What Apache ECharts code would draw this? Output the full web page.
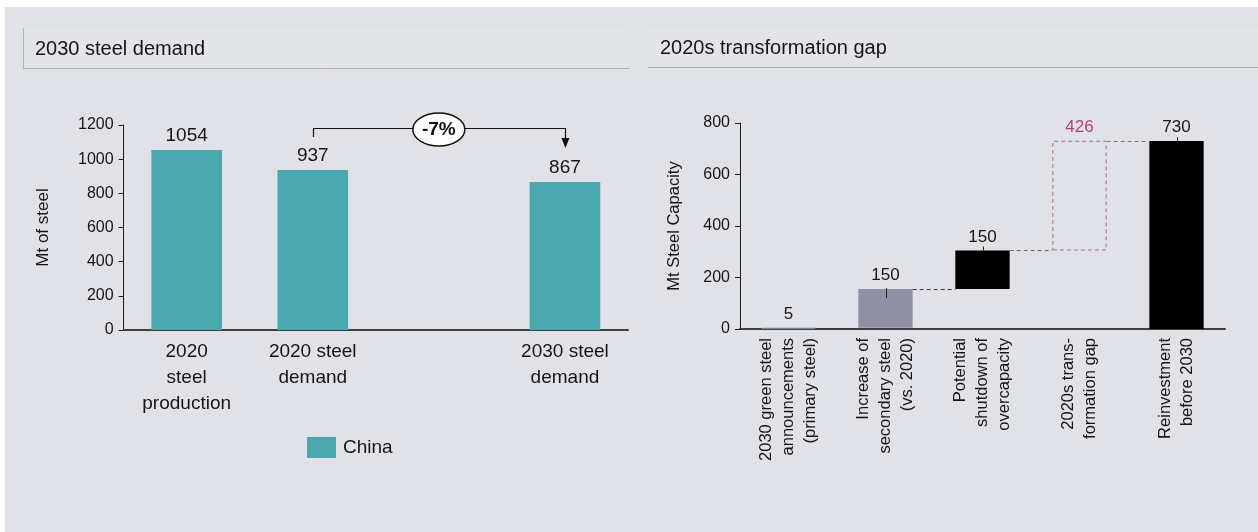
<!DOCTYPE html>
<html>
<head>
<meta charset="utf-8">
<script src="https://cdn.jsdelivr.net/npm/echarts@6/dist/echarts.min.js"></script>
<style>
html,body{margin:0;padding:0;background:#fff;}
#c{width:1258px;height:532px;}
</style>
</head>
<body>
<div id="c"></div>
<script>
// ---------- data ----------
const demandCategories = ['2020\nsteel\nproduction', '2020 steel\ndemand', '', '2030 steel\ndemand'];
const demandValues = [1054, 937, null, 867];
const demandYTicks = [0, 200, 400, 600, 800, 1000, 1200];
const demandSeriesName = 'China';

const gapCategories = [
  '2030 green steel\nannouncements\n(primary steel)',
  'Increase of\nsecondary steel\n(vs. 2020)',
  'Potential\nshutdown of\novercapacity',
  '2020s trans-\nformation gap',
  'Reinvestment\nbefore 2030'
];
const gapValues = [5, 150, 150, 426, 730];
const gapIsTotal = [false, false, false, false, true];
const gapYTicks = [0, 200, 400, 600, 800];

// ---------- derived ----------
const gapBase = [];
let cum = 0;
gapValues.forEach((v, i) => {
  if (gapIsTotal[i]) { gapBase.push(0); cum = v; }
  else { gapBase.push(cum); cum += v; }
});
const gapTops = gapValues.map((v, i) => gapBase[i] + v);
const pctChange = Math.round((demandValues[3] - demandValues[1]) / demandValues[1] * 100);

const FONT = '"Liberation Sans", Arial, Helvetica, sans-serif';
const TXT = '#151515';

const gapColors = ['#6f8f9e', '#9191a5', '#000000', 'transparent', '#000000'];
const connectorColors = ['#333333', '#3a3a3a', '#6a6a6a', '#7a7a7a'];

const chart = echarts.init(document.getElementById('c'), null, {renderer: 'canvas'});

const plain = v => String(v);

const option = {
  backgroundColor: '#ffffff',
  animation: false,
  textStyle: {fontFamily: FONT},
  graphic: [
    {type: 'rect', z: -10, shape: {x: 5, y: 7, width: 1253, height: 525}, style: {fill: '#e1e2e7'}},
    {type: 'rect', z: -9, shape: {x: 23, y: 28, width: 607, height: 40}, style: {fill: '#e3e4e8'}},
    {type: 'line', z: -8, shape: {x1: 23.5, y1: 28, x2: 23.5, y2: 68}, style: {stroke: '#b3b4ba', lineWidth: 1}},
    {type: 'line', z: -8, shape: {x1: 23, y1: 68.5, x2: 630, y2: 68.5}, style: {stroke: '#aeafb5', lineWidth: 1}},
    {type: 'text', z: 5, style: {x: 35, y: 49.5, text: '2030 steel demand', font: '20px ' + FONT, fill: TXT, verticalAlign: 'middle'}},
    {type: 'rect', z: -9, shape: {x: 648, y: 27, width: 610, height: 40}, style: {fill: '#e3e4e8'}},
    {type: 'line', z: -8, shape: {x1: 648, y1: 67.5, x2: 1258, y2: 67.5}, style: {stroke: '#aeafb5', lineWidth: 1}},
    {type: 'text', z: 5, style: {x: 660, y: 48.5, text: '2020s transformation gap', font: '20px ' + FONT, fill: TXT, verticalAlign: 'middle'}}
  ],
  legend: {
    data: [demandSeriesName],
    left: 307, top: 437, padding: 0,
    itemWidth: 29, itemHeight: 21, itemGap: 10,
    icon: 'rect',
    textStyle: {fontSize: 19, color: TXT, fontFamily: FONT, padding: [0, 0, 0, 2]}
  },
  grid: [
    {left: 123.6, right: 630, top: 125, bottom: 202},
    {left: 740, right: 33, top: 123, bottom: 203}
  ],
  xAxis: [
    {
      type: 'category', gridIndex: 0, data: demandCategories,
      axisLine: {lineStyle: {color: '#3f3f3f', width: 2}},
      axisTick: {show: false},
      axisLabel: {fontSize: 19, lineHeight: 26, color: TXT, margin: 9, interval: 0, fontFamily: FONT}
    },
    {
      type: 'category', gridIndex: 1, data: gapCategories,
      axisLine: {lineStyle: {color: '#3f3f3f', width: 2}},
      axisTick: {show: false},
      axisLabel: {fontSize: 16.5, lineHeight: 22, color: TXT, margin: 9, interval: 0, rotate: 90, fontFamily: FONT}
    }
  ],
  yAxis: [
    {
      type: 'value', gridIndex: 0, min: demandYTicks[0], max: demandYTicks[demandYTicks.length - 1], interval: demandYTicks[1] - demandYTicks[0],
      name: 'Mt of steel', nameLocation: 'middle', nameGap: 72, nameRotate: 90,
      nameTextStyle: {fontSize: 17, color: TXT, fontFamily: FONT},
      axisLine: {show: true, lineStyle: {color: '#1a1a1a', width: 1}},
      axisTick: {show: true, length: 5, lineStyle: {color: '#1a1a1a'}},
      splitLine: {show: false},
      axisLabel: {fontSize: 16, color: TXT, margin: 10, fontFamily: FONT, formatter: plain}
    },
    {
      type: 'value', gridIndex: 1, min: gapYTicks[0], max: gapYTicks[gapYTicks.length - 1], interval: gapYTicks[1] - gapYTicks[0],
      name: 'Mt Steel Capacity', nameLocation: 'middle', nameGap: 57, nameRotate: 90,
      nameTextStyle: {fontSize: 16.5, color: TXT, fontFamily: FONT},
      axisLine: {show: true, lineStyle: {color: '#1a1a1a', width: 1}},
      axisTick: {show: true, length: 5, lineStyle: {color: '#1a1a1a'}},
      splitLine: {show: false},
      axisLabel: {fontSize: 16, color: TXT, margin: 10, fontFamily: FONT, formatter: plain}
    }
  ],
  series: [
    {
      name: demandSeriesName, type: 'bar', xAxisIndex: 0, yAxisIndex: 0,
      data: demandValues, barWidth: '56%',
      itemStyle: {color: '#4aa8ae'},
      label: {show: true, position: 'top', distance: 5, fontSize: 19, color: TXT, fontFamily: FONT}
    },
    {
      name: 'bracket', type: 'custom', xAxisIndex: 0, yAxisIndex: 0,
      data: [[1, 3]], z: 10, silent: true,
      renderItem: function (params, api) {
        const from = api.value(0), to = api.value(1);
        const x1 = api.coord([from, 0])[0];
        const x2 = api.coord([to, 0])[0];
        const yTop = Math.round(api.coord([0, 1180])[1]) + 0.5;
        const yStart = api.coord([0, 1130])[1];
        const yTip = api.coord([0, 1066])[1];
        const xm = (x1 + x2) / 2;
        return {
          type: 'group',
          children: [
            {type: 'polyline', shape: {points: [[Math.round(x1) + 0.5, yStart], [Math.round(x1) + 0.5, yTop], [Math.round(x2) + 0.5, yTop], [Math.round(x2) + 0.5, yTip - 9]]},
              style: {stroke: '#111', lineWidth: 1.2, fill: null}},
            {type: 'polygon', shape: {points: [[x2 - 3.5, yTip - 10], [x2 + 4.5, yTip - 10], [x2 + 0.5, yTip]]}, style: {fill: '#111'}},
            {type: 'ellipse', shape: {cx: xm, cy: yTop + 1, rx: 26, ry: 16.5}, style: {fill: '#ffffff', stroke: '#111', lineWidth: 1.5}},
            {type: 'text', style: {x: xm, y: yTop + 1.5, text: pctChange + '%', font: 'bold 19px ' + FONT, fill: '#111', align: 'center', verticalAlign: 'middle'}}
          ]
        };
      }
    },
    {
      name: 'base', type: 'bar', xAxisIndex: 1, yAxisIndex: 1, stack: 'wf',
      data: gapBase, barWidth: '56%', silent: true,
      itemStyle: {color: 'transparent'}
    },
    {
      name: 'gap', type: 'bar', xAxisIndex: 1, yAxisIndex: 1, stack: 'wf',
      barWidth: '56%',
      data: gapValues.map((v, i) => ({
        value: v,
        itemStyle: i === 3
          ? {color: 'rgba(0,0,0,0)', borderColor: '#a8708c', borderWidth: 1, borderType: [4, 3]}
          : {color: gapColors[i]},
        label: {color: i === 3 ? '#b23f7c' : TXT}
      })),
      label: {show: true, position: 'top', distance: 5, fontSize: 17, fontFamily: FONT}
    },
    {
      name: 'connectors', type: 'custom', xAxisIndex: 1, yAxisIndex: 1, z: 5, silent: true,
      data: gapTops.slice(0, gapTops.length - 1).map((t, i) => [i, gapIsTotal[i + 1] ? gapTops[i + 1] : t]),
      renderItem: function (params, api) {
        const i = api.value(0);
        const level = api.value(1);
        const half = api.size([1, 0])[0] * 0.56 / 2;
        const p1 = api.coord([i, level]);
        const p2 = api.coord([i + 1, level]);
        const y = Math.round(p1[1]) + 0.5;
        return {
          type: 'line',
          shape: {x1: p1[0] + half, y1: y, x2: p2[0] - half, y2: y},
          style: {stroke: connectorColors[i], lineWidth: 1, lineDash: [4, 3]}
        };
      }
    },
    {
      name: 'leaders', type: 'custom', xAxisIndex: 1, yAxisIndex: 1, z: 6, silent: true,
      data: [[1, gapTops[1], 1], [2, gapTops[2], 0], [4, gapTops[4], 0]],
      renderItem: function (params, api) {
        const i = api.value(0);
        const p = api.coord([i, api.value(1)]);
        const inside = api.value(2) === 1;
        const x = Math.round(p[0]) + 0.5;
        return {
          type: 'line',
          shape: inside ? {x1: x, y1: p[1] - 1, x2: x, y2: p[1] + 9} : {x1: x, y1: p[1] - 4, x2: x, y2: p[1]},
          style: {stroke: '#222', lineWidth: 1}
        };
      }
    }
  ]
};
chart.setOption(option);
</script>
</body>
</html>
